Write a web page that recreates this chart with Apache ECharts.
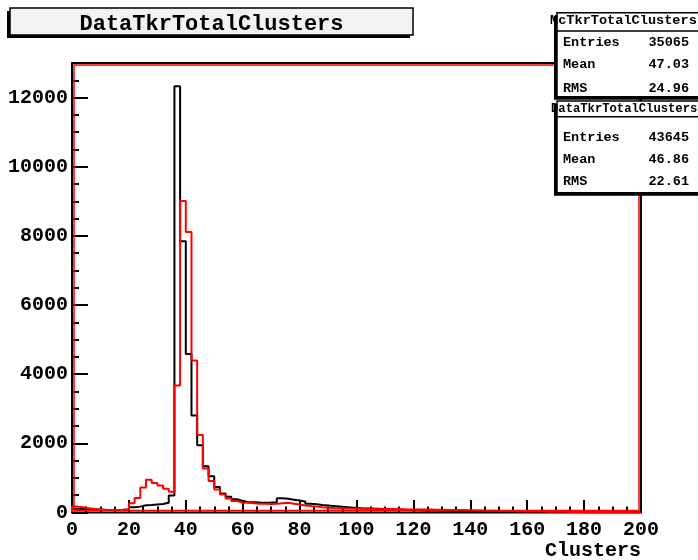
<!DOCTYPE html>
<html><head><meta charset="utf-8">
<script src="https://cdn.jsdelivr.net/npm/echarts@6/dist/echarts.min.js"></script>
<style>html,body{margin:0;padding:0;background:#fff}#c{width:698px;height:560px}</style>
</head><body><div id="c"></div>
<script>
// ---- data ----
const binWidth = 2;
const xMin = 0;
const xMax = 200;
const yMax = 13000;
const xTickLabels = ['0','20','40','60','80','100','120','140','160','180','200'];
const yTickLabels = ['0','2000','4000','6000','8000','10000','12000'];
const xTitle = 'Clusters';
const chartTitle = 'DataTkrTotalClusters';

// McTkrTotalClusters (black), 100 bins of width 2 from 0 to 200
const mcCounts = [
  110,100,90,85,80,75,75,75,80,90,
  150,170,210,215,230,245,280,490,12325,7845,
  4586,2807,1942,1336,1048,740,548,452,384,337,
  300,300,290,285,290,300,410,395,370,345,
  320,255,240,220,205,190,175,160,145,130,
  120,115,110,100,95,90,85,80,75,70,
  65,60,60,55,50,50,45,45,40,40,
  35,35,30,30,30,25,25,25,20,20,
  20,20,15,15,15,15,15,12,12,12,
  10,10,10,10,8,8,8,8,6,6
];
// DataTkrTotalClusters (red)
const dataCounts = [
  170,150,120,100,90,80,75,75,80,95,
  270,420,720,945,855,780,690,600,3673,9008,
  8114,4393,2240,1269,910,663,519,404,330,290,
  280,265,255,250,245,250,265,280,255,230,
  205,185,170,150,140,130,125,120,118,115,
  112,110,108,105,100,100,95,95,90,90,
  90,85,85,80,80,75,75,70,70,65,
  60,55,50,50,45,40,40,35,35,30,
  30,28,26,24,22,20,20,18,18,16,
  15,14,13,12,12,11,10,10,9,8
];
const mcName = 'McTkrTotalClusters';
const dataName = 'DataTkrTotalClusters';
const statLabels = ['Entries','Mean','RMS'];
const mcStats = ['35065','47.03','24.96'];
const dataStats = ['43645','46.86','22.61'];

// ---- helpers ----
function stepPoints(counts){
  const pts = [[xMin, 0]];
  counts.forEach((v, i) => pts.push([xMin + i * binWidth, v]));
  pts.push([xMax, counts[counts.length - 1]]);
  pts.push([xMax, 0]);
  return pts;
}
const FONT = '"Liberation Mono", "DejaVu Sans Mono", monospace';
const G = {left: 72, top: 63, right: 57, bottom: 47.5};
const W = 698, H = 560;
const gw = W - G.left - G.right, gh = H - G.top - G.bottom;

function statBox(top, h, headY, sepY, rowYs, name, vals, nameX, headSize){
  const els = [];
  els.push({type:'rect', z:100, shape:{x:554, y:top+3, width:150, height:h}, style:{fill:'#000'}});
  els.push({type:'rect', z:101, shape:{x:557, y:top, width:150, height:h}, style:{fill:'#fff', stroke:'#000', lineWidth:1.5}});
  els.push({type:'line', z:102, shape:{x1:557, y1:sepY, x2:707, y2:sepY}, style:{stroke:'#000', lineWidth:1.5}});
  els.push({type:'text', z:103, style:{text:name, x:nameX, y:headY, align:'left', verticalAlign:'middle', font:'bold ' + headSize + 'px ' + FONT, fill:'#000'}});
  statLabels.forEach((lab, i) => {
    els.push({type:'text', z:103, style:{text:lab, x:563, y:rowYs[i], align:'left', verticalAlign:'middle', font:'bold 13.5px ' + FONT, fill:'#000'}});
    els.push({type:'text', z:103, style:{text:vals[i], x:689, y:rowYs[i], align:'right', verticalAlign:'middle', font:'bold 13.5px ' + FONT, fill:'#000'}});
  });
  return els;
}

const chart = echarts.init(document.getElementById('c'), null, {renderer:'canvas'});
const axisLabelStyle = {color:'#000', fontFamily:FONT, fontWeight:'bold', fontSize:20};
const option = {
  animation: false,
  backgroundColor: '#fff',
  grid: {left:G.left, top:G.top, right:G.right, bottom:G.bottom, containLabel:false, outerBoundsMode:'none',
         show:true, borderColor:'#000', borderWidth:2, backgroundColor:'transparent'},
  xAxis: {
    type:'value', min:xMin, max:xMax, interval:20,
    axisLine:{show:false},
    splitLine:{show:false},
    axisTick:{show:true, inside:true, length:12.5, lineStyle:{color:'#000', width:2}},
    minorTick:{show:true, splitNumber:4, length:6, lineStyle:{color:'#000', width:2}},
    axisLabel:Object.assign({margin:7, showMinLabel:true, showMaxLabel:true,
      formatter: v => { const i = Math.round(v / 20); return Math.abs(v - i*20) < 1e-6 ? (xTickLabels[i] || '') : ''; }}, axisLabelStyle)
  },
  yAxis: [{
    type:'value', min:0, max:yMax, interval:2000, position:'left',
    axisLine:{show:false},
    splitLine:{show:false},
    axisTick:{show:true, inside:true, length:16, lineStyle:{color:'#000', width:2}},
    axisLabel:Object.assign({margin:4, showMaxLabel:false,
      formatter: v => { const i = Math.round(v / 2000); return Math.abs(v - i*2000) < 1e-6 ? (yTickLabels[i] || '') : ''; }}, axisLabelStyle)
  },{
    type:'value', min:0, max:yMax, interval:500, position:'left', offset:0,
    axisLine:{show:false},
    splitLine:{show:false},
    axisTick:{show:true, inside:true, length:7, lineStyle:{color:'#000', width:2}},
    axisLabel:{show:false}
  }],
  series: [
    {name:mcName, type:'line', step:'end', yAxisIndex:0, data:stepPoints(mcCounts), symbol:'none',
     lineStyle:{color:'#000', width:2}, z:3},
    {name:dataName, type:'line', step:'end', yAxisIndex:0, data:stepPoints(dataCounts), symbol:'none',
     lineStyle:{color:'#ff0000', width:2}, z:4}
  ],
  graphic: [].concat(
    [
      {type:'rect', z:5, silent:true, shape:{x:G.left+2, y:G.top+2, width:gw-4, height:gh-4}, style:{fill:'none', stroke:'#ff0000', lineWidth:1.5}},
      {type:'rect', z:100, shape:{x:7, y:11, width:403, height:27}, style:{fill:'#000'}},
      {type:'rect', z:101, shape:{x:10, y:8, width:403, height:27}, style:{fill:'#f2f2f2', stroke:'#000', lineWidth:1.5}},
      {type:'text', z:102, style:{text:chartTitle, x:211.5, y:24, align:'center', verticalAlign:'middle', font:'bold 22px ' + FONT, fill:'#000'}},
      {type:'text', z:102, style:{text:xTitle, x:641, y:551, align:'right', verticalAlign:'middle', font:'bold 20px ' + FONT, fill:'#000'}}
    ],
    statBox(12.7, 84, 20.5, 31, [42.7, 65, 88.3], mcName, mcStats, 550, 13.6),
    statBox(101, 91.7, 108.8, 116.7, [137.3, 159.3, 181.7], dataName, dataStats, 551, 12.2)
  )
};
chart.setOption(option);
</script>
</body></html>
